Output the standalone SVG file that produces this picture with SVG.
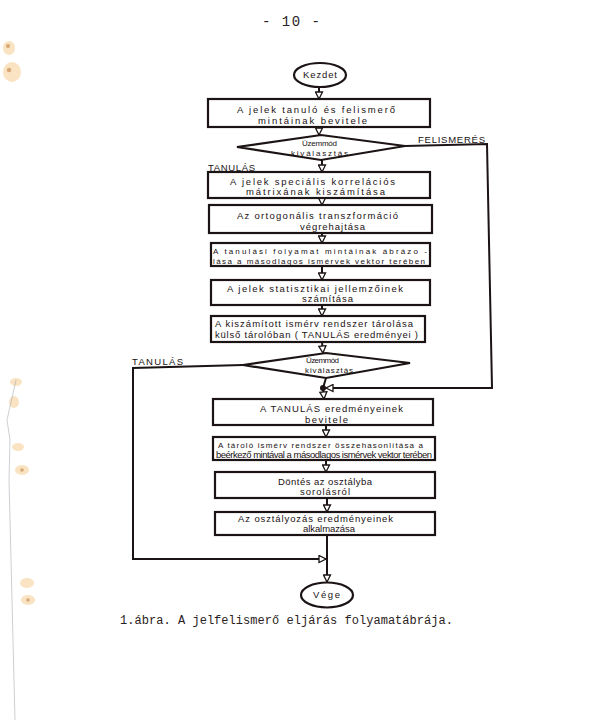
<svg xmlns="http://www.w3.org/2000/svg" width="589" height="722" viewBox="0 0 589 722">
<style>
.bx{fill:#fff;stroke:#1c1414;stroke-width:2.2}
.ln{fill:none;stroke:#1c1414;stroke-width:2}
.t{font-family:"Liberation Sans",Arial,sans-serif;font-size:9.5px;fill:#1a1212}
.s{font-size:8px}
.lb{font-family:"Liberation Sans",Arial,sans-serif;font-size:9.5px;fill:#1a1212}
.mono{font-family:"Liberation Mono","Courier New",monospace;fill:#2a2222}
.st{fill:#eeb050;opacity:0.35}
.sd{fill:#b06018;opacity:0.45}
</style>
<defs>
<marker id="ar" markerUnits="userSpaceOnUse" markerWidth="9" markerHeight="9" refX="8" refY="4.5" orient="auto">
<path d="M1,1 L8,4.5 L1,8 Z" fill="#fff" stroke="#1c1414" stroke-width="1.3"/>
</marker>
</defs>
<rect width="589" height="722" fill="#fff"/>
<g id="stains">
<ellipse class="st" cx="9" cy="48" rx="6" ry="7"/>
<circle class="sd" cx="8" cy="46" r="2"/>
<ellipse class="st" cx="12" cy="72" rx="9" ry="10"/>
<circle class="sd" cx="9" cy="70" r="2.2"/>
<ellipse class="st" cx="16" cy="382" rx="6" ry="4"/>
<ellipse class="st" cx="14" cy="402" rx="5" ry="6"/>
<ellipse class="st" cx="18" cy="447" rx="6" ry="4"/>
<ellipse class="st" cx="22" cy="470" rx="7" ry="5"/>
<circle class="sd" cx="22" cy="470" r="1.8"/>
<ellipse class="st" cx="27" cy="583" rx="7" ry="5"/>
<ellipse class="st" cx="28" cy="600" rx="7" ry="5"/>
<circle class="sd" cx="28" cy="600" r="1.8"/>
<path d="M16,380 L7,420 L10,440 L9,480 L15,720" fill="none" stroke="#9aa0a8" stroke-width="1" opacity="0.5"/>
</g>
<text class="mono" x="262" y="26" font-size="14" textLength="58" lengthAdjust="spacing">- 10 -</text>
<g id="connectors">
<line class="ln" x1="319" y1="87" x2="319" y2="99" marker-end="url(#ar)"/>
<line class="ln" x1="319" y1="127" x2="319" y2="135" marker-end="url(#ar)"/>
<line class="ln" x1="322" y1="160" x2="322" y2="172" marker-end="url(#ar)"/>
<line class="ln" x1="322" y1="198" x2="322" y2="205" marker-end="url(#ar)"/>
<line class="ln" x1="322" y1="233" x2="322" y2="243" marker-end="url(#ar)"/>
<line class="ln" x1="322" y1="266" x2="322" y2="280" marker-end="url(#ar)"/>
<line class="ln" x1="322" y1="305" x2="322" y2="316" marker-end="url(#ar)"/>
<line class="ln" x1="322" y1="342" x2="323" y2="353" marker-end="url(#ar)"/>
<polyline class="ln" points="326,378 323,388"/>
<line class="ln" x1="323" y1="388" x2="324" y2="399" marker-end="url(#ar)"/>
<polyline class="ln" points="405,146 487,144 492,388 326,388" marker-end="url(#ar)"/>
<polyline class="ln" points="243,365 133,368 133,559 326,559" marker-end="url(#ar)"/>
<circle cx="323" cy="388" r="3" fill="#1c1414"/>
<line class="ln" x1="326" y1="425" x2="326" y2="437" marker-end="url(#ar)"/>
<line class="ln" x1="326" y1="460" x2="326" y2="472" marker-end="url(#ar)"/>
<line class="ln" x1="327" y1="498" x2="327" y2="512" marker-end="url(#ar)"/>
<line class="ln" x1="327" y1="535" x2="327" y2="582" marker-end="url(#ar)"/>
<text class="lb" x="418" y="143" textLength="67" lengthAdjust="spacing">FELISMERÉS</text>
<text class="lb" x="208" y="171" textLength="47" lengthAdjust="spacing">TANULÁS</text>
<text class="lb" x="132" y="365" textLength="51" lengthAdjust="spacing">TANULÁS</text>
</g>
<g id="start">
<ellipse class="bx" cx="320" cy="75" rx="26" ry="12"/>
<text class="t" x="303" y="78" textLength="34" lengthAdjust="spacing">Kezdet</text>
</g>
<g id="box1">
<rect class="bx" x="208" y="99" width="222" height="28"/>
<text class="t" x="237" y="113" textLength="158" lengthAdjust="spacing">A jelek tanuló és felismerő</text>
<text class="t" x="258" y="124" textLength="109" lengthAdjust="spacing">mintáinak bevitele</text>
</g>
<g id="mode1">
<polygon class="bx" points="237,147 321,135 405,146 321,160"/>
<text class="t s" x="302" y="146" textLength="35" lengthAdjust="spacing">Üzemmód</text>
<text class="t s" x="291" y="156" textLength="57" lengthAdjust="spacing">kiválasztás</text>
</g>
<g id="box2">
<rect class="bx" x="208" y="172" width="222" height="26"/>
<text class="t" x="230" y="185" textLength="165" lengthAdjust="spacing">A jelek speciális korrelációs</text>
<text class="t" x="246" y="195" textLength="139" lengthAdjust="spacing">mátrixának kiszámítása</text>
</g>
<g id="box3">
<rect class="bx" x="209" y="205" width="223" height="28"/>
<text class="t" x="237" y="219" textLength="161" lengthAdjust="spacing">Az ortogonális transzformáció</text>
<text class="t" x="300" y="230" textLength="65" lengthAdjust="spacing">végrehajtása</text>
</g>
<g id="box4">
<rect class="bx" x="211" y="243" width="219" height="23"/>
<text class="t s" x="213" y="254" textLength="214" lengthAdjust="spacing">A tanulási folyamat mintáinak ábrázo -</text>
<text class="t s" x="213" y="263.5" textLength="212" lengthAdjust="spacing">lása a másodlagos ismérvek vektor terében</text>
</g>
<g id="box5">
<rect class="bx" x="211" y="280" width="219" height="25"/>
<text class="t" x="227" y="292" textLength="176" lengthAdjust="spacing">A jelek statisztikai jellemzőinek</text>
<text class="t" x="302" y="302" textLength="51" lengthAdjust="spacing">számítása</text>
</g>
<g id="box6">
<rect class="bx" x="211" y="316" width="214" height="26"/>
<text class="t" x="215" y="327" font-size="9" textLength="198" lengthAdjust="spacing">A kiszámított ismérv rendszer tárolása</text>
<text class="t" x="215" y="338" font-size="9" textLength="203" lengthAdjust="spacing">külső tárolóban ( TANULÁS eredményei )</text>
</g>
<g id="mode2">
<polygon class="bx" points="243,365 326,353 410,363 326,378"/>
<text class="t s" x="306" y="363" textLength="33" lengthAdjust="spacing">Üzemmód</text>
<text class="t s" x="305" y="373" textLength="48" lengthAdjust="spacing">kiválasztás</text>
</g>
<g id="box7">
<rect class="bx" x="213" y="399" width="220" height="26"/>
<text class="t" x="260" y="412" textLength="143" lengthAdjust="spacing">A TANULÁS eredményeinek</text>
<text class="t" x="305" y="423" textLength="43" lengthAdjust="spacing">bevitele</text>
</g>
<g id="box8">
<rect class="bx" x="213" y="437" width="222" height="23"/>
<text class="t s" x="218" y="448" textLength="205" lengthAdjust="spacing">A tároló ismérv rendszer összehasonlítása a</text>
<text class="t" x="216" y="457.5" font-size="7" textLength="216" lengthAdjust="spacing">beérkező mintával a másodlagos ismérvek vektor terében</text>
</g>
<g id="box9">
<rect class="bx" x="215" y="472" width="220" height="26"/>
<text class="t" x="278" y="485" textLength="94" lengthAdjust="spacing">Döntés az osztályba</text>
<text class="t" x="300" y="495" textLength="50" lengthAdjust="spacing">sorolásról</text>
</g>
<g id="box10">
<rect class="bx" x="215" y="512" width="220" height="23"/>
<text class="t" x="238" y="522" textLength="155" lengthAdjust="spacing">Az osztályozás eredményeinek</text>
<text class="t" x="303" y="532" textLength="52" lengthAdjust="spacing">alkalmazása</text>
</g>
<g id="end">
<ellipse class="bx" cx="327" cy="595" rx="26" ry="12.5"/>
<text class="t" x="313" y="598" textLength="27" lengthAdjust="spacing">Vége</text>
</g>
<text class="mono" x="120" y="624" font-size="12" textLength="333" lengthAdjust="spacing">1.ábra. A jelfelismerő eljárás folyamatábrája.</text>
</svg>
